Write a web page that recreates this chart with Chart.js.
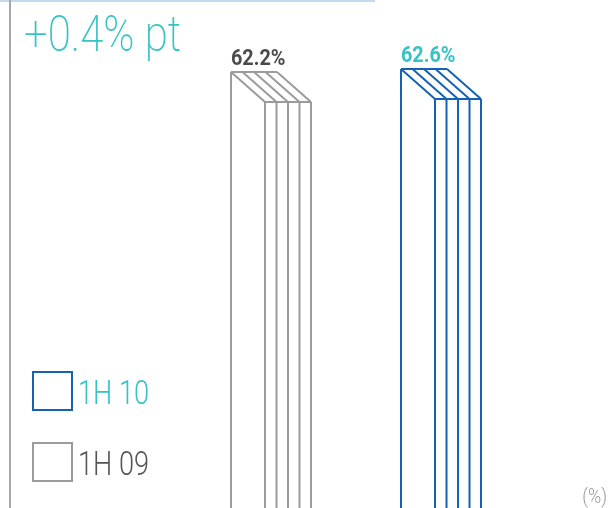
<!DOCTYPE html>
<html>
<head>
<meta charset="utf-8">
<script src="https://cdn.jsdelivr.net/npm/chart.js@4.4.1/dist/chart.umd.min.js"></script>
<style>
  html, body { margin: 0; padding: 0; background: #fff; overflow: hidden; }
  #grafico { display: block; }
</style>
</head>
<body>
<canvas id="grafico" width="611" height="508"></canvas>
<script>
const categories = ['1H 09', '1H 10'];
const values = [62.2, 62.6];
const valueLabels = ['62.2%', '62.6%'];
const headline = '+0.4% pt';
const unitLabel = '(%)';

const gris = '#9b9b9b';
const azul = '#1662b2';
const turquesa = '#35c3c5';
const lineColors = [gris, azul];
const labelColors = ['#4b4b4b', turquesa];
const legendText = ['#555555', turquesa];

// texto condensado (la fuente original es estrecha)
function textoAngosto(ctx, txt, x, y, scale) {
  ctx.save();
  ctx.translate(x, y);
  ctx.scale(scale, 1);
  ctx.fillText(txt, 0, 0);
  ctx.restore();
}

const barras3d = {
  id: 'barras3d',
  beforeDraw(chart) {
    const ctx = chart.ctx;
    ctx.save();
    ctx.fillStyle = '#c2d9ef';
    ctx.fillRect(0, 0, 375, 2);
    ctx.fillStyle = '#a8a8a8';
    ctx.fillRect(9, 0, 2, chart.height);
    ctx.restore();
  },
  afterDatasetsDraw(chart) {
    const ctx = chart.ctx;
    const bottom = chart.height + 2;
    const meta = chart.getDatasetMeta(0);
    const step = 11.5, depth = 30, capas = 4;
    ctx.save();
    ctx.lineWidth = 2;
    meta.data.forEach((bar, i) => {
      const p = bar.getProps(['x', 'y', 'width'], true);
      const left = Math.round(p.x - p.width / 2);
      const right = left + p.width;
      const top = Math.round(p.y);
      ctx.strokeStyle = lineColors[i];
      ctx.beginPath();
      // cara superior
      ctx.moveTo(left, top);
      ctx.lineTo(left + capas * step, top);
      ctx.moveTo(right, top + depth);
      ctx.lineTo(right + capas * step, top + depth);
      ctx.moveTo(left, top);
      ctx.lineTo(left, bottom);
      for (let k = 0; k <= capas; k++) {
        ctx.moveTo(left + k * step, top);
        ctx.lineTo(right + k * step, top + depth);
        ctx.moveTo(right + k * step, top + depth);
        ctx.lineTo(right + k * step, bottom);
      }
      ctx.stroke();

      ctx.fillStyle = labelColors[i];
      ctx.font = 'bold 22px Roboto, sans-serif';
      ctx.textAlign = 'left';
      ctx.textBaseline = 'alphabetic';
      textoAngosto(ctx, valueLabels[i], left, top - 7, 0.9);
    });
    ctx.restore();
  },
  afterDraw(chart) {
    const ctx = chart.ctx;
    ctx.save();
    ctx.textAlign = 'left';
    ctx.textBaseline = 'alphabetic';
    ctx.fillStyle = turquesa;
    ctx.font = '200 50px Roboto, sans-serif';
    textoAngosto(ctx, headline, 24, 51, 0.84);

    // leyenda: 1H 10 arriba, 1H 09 abajo
    const orden = [1, 0];
    orden.forEach((idx, j) => {
      const by = 372 + j * 71;
      ctx.lineWidth = 2;
      ctx.strokeStyle = lineColors[idx];
      ctx.strokeRect(33, by, 39, 38);
      ctx.fillStyle = legendText[idx];
      ctx.font = '300 34px Roboto, sans-serif';
      textoAngosto(ctx, categories[idx], 78, by + 32, 0.8);
    });

    ctx.fillStyle = '#9a9a9a';
    ctx.font = '300 21px Roboto, sans-serif';
    const w = ctx.measureText(unitLabel).width * 0.85;
    textoAngosto(ctx, unitLabel, 607 - w, 503, 0.85);
    ctx.restore();
  }
};

const ctx = document.getElementById('grafico').getContext('2d');
new Chart(ctx, {
  type: 'bar',
  data: {
    labels: categories,
    datasets: [{
      label: 'Ratio',
      data: values,
      backgroundColor: 'rgba(0,0,0,0)',
      borderWidth: 0,
      barThickness: 34
    }]
  },
  options: {
    responsive: false,
    animation: false,
    layout: { padding: { left: 163, right: 108, top: 0, bottom: 0 } },
    plugins: {
      legend: { display: false },
      title: { display: false },
      tooltip: { enabled: false }
    },
    scales: {
      x: { display: false },
      y: { display: false, min: 0, max: 72.5 }
    }
  },
  plugins: [barras3d]
});
</script>
</body>
</html>
